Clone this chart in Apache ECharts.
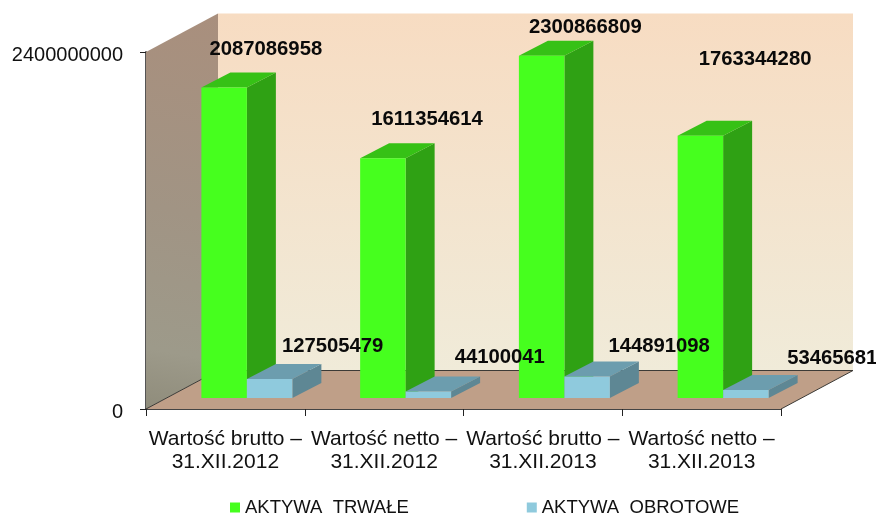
<!DOCTYPE html>
<html>
<head>
<meta charset="utf-8">
<style>
html, body { margin: 0; padding: 0; background: #fff; }
#chart { width: 876px; height: 516px; }
</style>
<script src="https://cdn.jsdelivr.net/npm/echarts@6/dist/echarts.min.js"></script>
</head>
<body>
<div id="chart"></div>
<script>
var categories = [
    'Wartość brutto –\n31.XII.2012',
    'Wartość netto –\n31.XII.2012',
    'Wartość brutto –\n31.XII.2013',
    'Wartość netto –\n31.XII.2013'
];
var trwale = [2087086958, 1611354614, 2300866809, 1763344280];
var obrotowe = [127505479, 44100041, 144891098, 53465681];
var yMax = 2400000000;

// hand placed label shifts, relative to the front top left corner of each bar
var trwaleLabelShift = [[8, -38], [11, -39], [10, -28], [21, -76]];
var obrotoweLabelShift = [[35, -33], [49, -34], [44, -30], [64, -32]];

var chart = echarts.init(document.getElementById('chart'));

// fake 3d: floor and back wall sit this far behind the axis plane
var wallDx = 72, wallDy = -38.5;
// bars stand a bit in from the axis plane
var barDx = 21.5, barDy = -11;
var sideDx = 29, sideDy = -15;

function barRender(colors, shifts, slot) {
    return function (params, api) {
        var i = api.value(0);
        var top = api.coord([i, api.value(1)]);
        var bottom = api.coord([i, 0]);
        var w = api.size([1, 0])[0] * 0.2865;
        var x0 = top[0] + barDx + (slot - 1) * w;
        var x1 = x0 + w;
        var y0 = top[1] + barDy;
        var y1 = bottom[1] + barDy;
        return {
            type: 'group',
            children: [
                { type: 'polygon', shape: { points: [[x1, y0], [x1 + sideDx, y0 + sideDy], [x1 + sideDx, y1 + sideDy], [x1, y1]] }, style: { fill: colors.side } },
                { type: 'polygon', shape: { points: [[x0, y0], [x0 + sideDx, y0 + sideDy], [x1 + sideDx, y0 + sideDy], [x1, y0]] }, style: { fill: colors.top } },
                { type: 'rect', shape: { x: x0, y: y0, width: x1 - x0, height: y1 - y0 }, style: { fill: colors.front } },
                {
                    type: 'text', z2: 50,
                    style: {
                        x: x0 + shifts[i][0], y: y0 + shifts[i][1],
                        text: String(api.value(1)),
                        font: 'bold 20.3px "Liberation Sans", Arial, sans-serif',
                        fill: '#0a0a0a',
                        verticalAlign: 'middle'
                    }
                }
            ]
        };
    };
}

function wallRender(params, api) {
    var o = api.coord([0, 0]);
    var t = api.coord([0, yMax]);
    var left = params.coordSys.x, right = left + params.coordSys.width;
    var y0 = o[1], y1 = t[1];
    return {
        type: 'group',
        children: [
            {
                type: 'rect',
                shape: { x: left + wallDx, y: y1 + wallDy, width: right - left, height: y0 - y1 },
                style: { fill: new echarts.graphic.LinearGradient(0, 0, 0, 1, [
                    { offset: 0, color: '#f7dcc2' },
                    { offset: 1, color: '#f0ebd9' }
                ]) }
            },
            {
                type: 'polygon',
                shape: { points: [[left, y0], [left + wallDx, y0 + wallDy], [right + wallDx, y0 + wallDy], [right, y0]] },
                style: { fill: '#bf9f88' }
            },
            {
                type: 'polygon',
                shape: { points: [[left, y1], [left + wallDx, y1 + wallDy], [left + wallDx, y0 + wallDy], [left, y0]] },
                style: { fill: new echarts.graphic.LinearGradient(1, 0, 0, 1, [
                    { offset: 0, color: '#a98f7d' },
                    { offset: 0.5, color: '#a19484' },
                    { offset: 0.85, color: '#9d9a8a' },
                    { offset: 1, color: '#8f8c7b' }
                ]) }
            },
            {
                type: 'polyline',
                shape: { points: [[left, y0], [left + wallDx, y0 + wallDy], [right + wallDx, y0 + wallDy], [right, y0]] },
                style: { fill: 'none', stroke: '#3c3a36', lineWidth: 1 }
            }
        ]
    };
}

var option = {
    animation: false,
    backgroundColor: '#fff',
    textStyle: { fontFamily: '"Liberation Sans", Arial, sans-serif' },
    grid: { left: 146, right: 95, top: 52, bottom: 107 },
    legend: {
        data: ['AKTYWA TRWAŁE', 'AKTYWA OBROTOWE'],
        left: 225, top: 493,
        icon: 'rect',
        itemWidth: 10, itemHeight: 10, itemGap: 118,
        formatter: function (name) { return name.replace(' ', '\u00a0\u00a0'); },
        textStyle: { fontSize: 18.5, color: '#111', padding: [8, 0, 0, 0] }
    },
    xAxis: {
        type: 'category',
        data: categories,
        axisLine: { lineStyle: { color: '#444', width: 2 } },
        axisTick: { show: true, length: 7, lineStyle: { color: '#222', width: 1 } },
        axisLabel: { fontSize: 21, lineHeight: 23, margin: 19, color: '#111', interval: 0 }
    },
    yAxis: {
        type: 'value',
        min: 0, max: yMax, interval: yMax,
        splitLine: { show: false },
        axisLine: { show: true, lineStyle: { color: '#555', width: 2 } },
        axisTick: { show: true, length: 6, lineStyle: { color: '#222', width: 1 } },
        axisLabel: { fontSize: 20, margin: 23, color: '#111', verticalAlign: 'top', lineHeight: 6, formatter: function (v) { return String(v); } }
    },
    series: [
        { type: 'custom', name: 'sciany', silent: true, z: 1, data: [[0, 0]], renderItem: wallRender },
        {
            type: 'custom', name: 'AKTYWA TRWAŁE', z: 3,
            itemStyle: { color: '#46ff1e' },
            data: trwale.map(function (v, i) { return [i, v]; }),
            renderItem: barRender({ front: '#46ff1e', top: '#36c116', side: '#2fa114' }, trwaleLabelShift, 0)
        },
        {
            type: 'custom', name: 'AKTYWA OBROTOWE', z: 4,
            itemStyle: { color: '#8fcadd' },
            data: obrotowe.map(function (v, i) { return [i, v]; }),
            renderItem: barRender({ front: '#8fcadd', top: '#6c9dae', side: '#5e8794' }, obrotoweLabelShift, 1)
        }
    ]
};

chart.setOption(option);
</script>
</body>
</html>
